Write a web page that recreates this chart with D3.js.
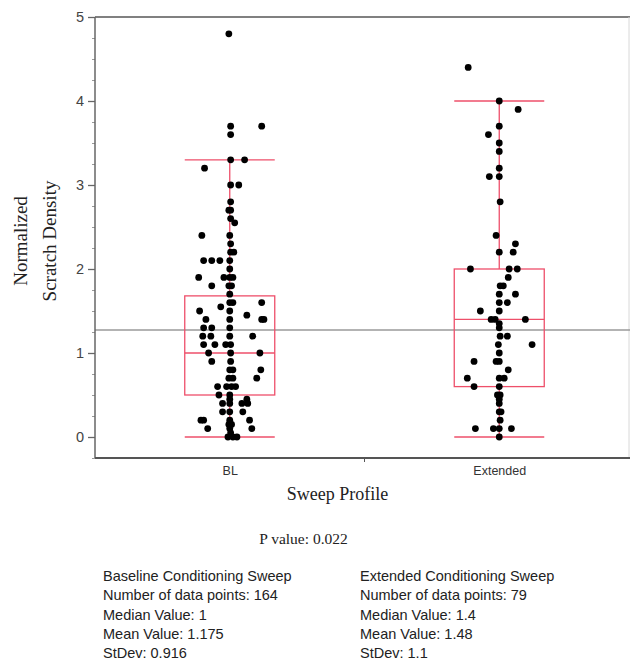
<!DOCTYPE html>
<html>
<head>
<meta charset="utf-8">
<script src="https://cdn.jsdelivr.net/npm/d3@7"></script>
<style>
  html, body { margin: 0; padding: 0; background: #fff; }
  svg { display: block; }
</style>
</head>
<body>
<svg id="chart" width="630" height="666"></svg>
<script>
// Sweep profile categories and summary statistics (box: min, Q1, median, Q3, max)
const categories = ["BL", "Extended"];
const boxMin    = [0, 0];
const boxQ1     = [0.5, 0.6];
const boxMedian = [1.0, 1.4];
const boxQ3     = [1.68, 2.0];
const boxMax    = [3.3, 4.0];
const overallMean = 1.274;

// Individual observations (normalized scratch density) with horizontal jitter
// expressed as a fraction of the box half-width.
const blValues = [
  4.8, 3.7, 3.7, 3.6, 3.3, 3.3, 3.2, 3.0, 3.0, 2.8, 2.7, 2.7, 2.6, 2.55,
  2.4, 2.4, 2.3, 2.2, 2.2, 2.1, 2.1, 2.1, 2.1, 2.0, 1.9, 1.9, 1.9, 1.9,
  1.8, 1.8, 1.8, 1.7, 1.6, 1.6, 1.6, 1.55, 1.5, 1.5, 1.45, 1.4, 1.4, 1.4, 1.4,
  1.3, 1.3, 1.3, 1.2, 1.2, 1.2, 1.2, 1.1, 1.1, 1.1, 1.1, 1.0, 1.0, 1.0,
  0.9, 0.9, 0.8, 0.8, 0.8, 0.7, 0.7, 0.7, 0.6, 0.6, 0.6, 0.6, 0.5, 0.5,
  0.45, 0.45, 0.4, 0.4, 0.4, 0.4, 0.3, 0.3, 0.3, 0.2, 0.2, 0.2, 0.2,
  0.15, 0.15, 0.1, 0.1, 0.1, 0.05, 0, 0, 0
];
const blJitter = [
  -0.02, 0.02, 0.71, 0.02, 0.02, 0.33, -0.56, 0.02, 0.2, 0.02, -0.02, 0.02, 0.02, 0.11,
  -0.62, 0, 0.02, 0.02, 0.09, -0.58, -0.4, -0.22, 0, 0, -0.69, -0.13, 0, 0.07,
  -0.4, -0.02, 0.04, 0, 0, 0.07, 0.71, -0.2, -0.67, 0, 0.38, -0.53, 0, 0.71, 0.76,
  -0.58, -0.4, 0, -0.6, -0.42, 0, 0.51, -0.58, -0.33, -0.09, 0.02, -0.47, 0.02, 0.67,
  -0.4, 0.02, 0, 0.07, 0.69, -0.02, 0.07, 0.6, -0.27, -0.07, 0.04, 0.13, -0.24, 0,
  0, 0.38, -0.16, 0, 0.27, 0.4, -0.16, 0, 0.29, -0.64, -0.58, 0, 0.44,
  -0.02, 0.04, -0.49, 0, 0.49, 0.02, -0.04, 0.07, 0.16
];
const extValues = [
  4.4, 4.0, 3.9, 3.7, 3.6, 3.5, 3.4, 3.2, 3.1, 3.1, 2.8, 2.4, 2.3, 2.2, 2.2,
  2.0, 2.0, 2.0, 1.9, 1.8, 1.8, 1.7, 1.7, 1.6, 1.6, 1.5, 1.5, 1.4, 1.4, 1.4,
  1.35, 1.3, 1.2, 1.2, 1.1, 1.1, 1.0, 0.9, 0.9, 0.9, 0.8, 0.7, 0.7, 0.7,
  0.6, 0.6, 0.5, 0.5, 0.45, 0.4, 0.3, 0.3, 0.2, 0.1, 0.1, 0.1, 0.1, 0
];
const extJitter = [
  -0.69, 0, 0.42, 0, -0.24, 0, 0, 0, -0.22, 0, 0.02, -0.07, 0.36, 0, 0.31,
  -0.64, 0.22, 0.4, 0.2, 0.02, 0.09, 0, 0.36, 0, 0.18, -0.42, 0, -0.18, -0.09, 0.58,
  0, 0, 0.02, 0.18, -0.02, 0.73, 0, -0.56, -0.07, 0, 0.2, -0.71, 0, 0.11,
  -0.56, 0, -0.04, 0.02, 0, 0, 0, 0.04, 0.02, -0.53, -0.13, 0, 0.27, 0
];
const seriesValues = [blValues, extValues];
const seriesJitter = [blJitter, extJitter];

// Y axis ticks
const yTicks = [0, 1, 2, 3, 4, 5];
const yMinorTicks = d3.range(-0.25, 5.001, 0.25);

// Text below the plot
const xTitle = "Sweep Profile";
const yTitle = ["Normalized", "Scratch Density"];
const pValueText = "P value: 0.022";
const statsLeft = [
  "Baseline Conditioning Sweep",
  "Number of data points: 164",
  "Median Value: 1",
  "Mean Value: 1.175",
  "StDev: 0.916"
];
const statsRight = [
  "Extended Conditioning Sweep",
  "Number of data points: 79",
  "Median Value: 1.4",
  "Mean Value: 1.48",
  "StDev: 1.1"
];

// ---- layout ----
const plot = { left: 95, right: 630, top: 17, bottom: 458 };
const boxHalf = 45;
const pointR = 3.4;
const boxColor = "#ee4f6a";
const axisColor = "#666";

const svg = d3.select("#chart");

const y = d3.scaleLinear().domain([-0.25, 5]).range([plot.bottom, plot.top]);
const x = d3.scalePoint().domain(categories).range([plot.left, 634]).padding(0.5);
const jitter = d3.scaleLinear().domain([-1, 1]).range([-boxHalf, boxHalf]);

// Frame: top border and faint right border
svg.append("line")
  .attr("x1", plot.left).attr("x2", plot.right)
  .attr("y1", plot.top).attr("y2", plot.top)
  .attr("stroke", "#808080").attr("stroke-width", 2);
svg.append("line")
  .attr("x1", plot.right - 1).attr("x2", plot.right - 1)
  .attr("y1", plot.top).attr("y2", plot.bottom)
  .attr("stroke", "#d8d8d8").attr("stroke-width", 1);

// Overall mean reference line
svg.append("line")
  .attr("x1", plot.left).attr("x2", plot.right)
  .attr("y1", y(overallMean)).attr("y2", y(overallMean))
  .attr("stroke", "#9a9a9a").attr("stroke-width", 1.3);

// Y axis: minor ticks, then labelled major ticks
const yAxisG = svg.append("g").attr("transform", `translate(${plot.left},0)`);
yAxisG.call(d3.axisLeft(y).tickValues(yMinorTicks).tickSize(3).tickFormat(""))
  .call(g => g.select(".domain").remove())
  .selectAll("line").attr("stroke", "#999");
const yMajor = svg.append("g").attr("transform", `translate(${plot.left},0)`)
  .call(d3.axisLeft(y).tickValues(yTicks).tickSize(7).tickPadding(4).tickFormat(d3.format("d")));
yMajor.select(".domain").remove();
yMajor.selectAll("line").attr("stroke", axisColor).attr("stroke-width", 1.3);
yMajor.selectAll("text")
  .attr("font-family", "'Liberation Sans', Arial, sans-serif")
  .attr("font-size", 14.5).attr("fill", "#444");
svg.append("line")
  .attr("x1", plot.left).attr("x2", plot.left)
  .attr("y1", plot.top).attr("y2", plot.bottom)
  .attr("stroke", axisColor).attr("stroke-width", 1.5);

// X axis
svg.append("line")
  .attr("x1", plot.left).attr("x2", plot.right)
  .attr("y1", plot.bottom).attr("y2", plot.bottom)
  .attr("stroke", "#555").attr("stroke-width", 2);
const xAxisG = svg.append("g").attr("transform", `translate(0,${plot.bottom})`)
  .call(d3.axisBottom(x).tickSize(0).tickPadding(8));
xAxisG.select(".domain").remove();
xAxisG.selectAll("text")
  .attr("font-family", "'Liberation Sans', Arial, sans-serif")
  .attr("font-size", 12.5).attr("fill", "#333");
// separator tick between the two categories
const midX = (x(categories[0]) + x(categories[1])) / 2;
svg.append("line")
  .attr("x1", midX).attr("x2", midX)
  .attr("y1", plot.bottom).attr("y2", plot.bottom + 4)
  .attr("stroke", "#555").attr("stroke-width", 1);

// Box plots
const boxes = svg.append("g").attr("fill", "none").attr("stroke", boxColor).attr("stroke-width", 1.3);
categories.forEach((c, i) => {
  const cx = x(c);
  const g = boxes.append("g");
  // whisker
  g.append("line").attr("x1", cx).attr("x2", cx).attr("y1", y(boxMin[i])).attr("y2", y(boxQ1[i]));
  g.append("line").attr("x1", cx).attr("x2", cx).attr("y1", y(boxQ3[i])).attr("y2", y(boxMax[i]));
  // caps
  [boxMin[i], boxMax[i]].forEach(v => {
    g.append("line").attr("x1", cx - boxHalf).attr("x2", cx + boxHalf).attr("y1", y(v)).attr("y2", y(v));
  });
  // box
  g.append("rect")
    .attr("x", cx - boxHalf).attr("width", 2 * boxHalf)
    .attr("y", y(boxQ3[i])).attr("height", y(boxQ1[i]) - y(boxQ3[i]));
  // median
  g.append("line").attr("x1", cx - boxHalf).attr("x2", cx + boxHalf)
    .attr("y1", y(boxMedian[i])).attr("y2", y(boxMedian[i]));
});

// Points
categories.forEach((c, i) => {
  svg.append("g").selectAll("circle")
    .data(seriesValues[i].map((v, k) => ({ v, j: seriesJitter[i][k] })))
    .join("circle")
    .attr("cx", d => x(c) + jitter(d.j))
    .attr("cy", d => y(d.v))
    .attr("r", pointR)
    .attr("fill", "#000");
});

// Axis titles
const serif = "'Liberation Serif', 'Times New Roman', serif";
const sans = "'Liberation Sans', Arial, sans-serif";
const yMid = 241;
svg.append("text")
  .attr("transform", `translate(27,${yMid}) rotate(-90)`)
  .attr("text-anchor", "middle")
  .attr("font-family", serif).attr("font-size", 19).attr("fill", "#222")
  .text(yTitle[0]);
svg.append("text")
  .attr("transform", `translate(56,${yMid}) rotate(-90)`)
  .attr("text-anchor", "middle")
  .attr("font-family", serif).attr("font-size", 19).attr("fill", "#222")
  .text(yTitle[1]);
svg.append("text")
  .attr("x", 337.5).attr("y", 500)
  .attr("text-anchor", "middle")
  .attr("font-family", serif).attr("font-size", 18).attr("fill", "#222")
  .text(xTitle);

// P value
svg.append("text")
  .attr("x", 303.5).attr("y", 544)
  .attr("text-anchor", "middle")
  .attr("font-family", serif).attr("font-size", 15.5).attr("fill", "#222")
  .text(pValueText);

// Summary statistics blocks
const lineH = 19.3;
[[statsLeft, 103], [statsRight, 360]].forEach(([lines, x0]) => {
  svg.append("g").selectAll("text")
    .data(lines)
    .join("text")
    .attr("x", x0)
    .attr("y", (d, k) => 581 + k * lineH)
    .attr("font-family", sans).attr("font-size", 14.5).attr("fill", "#222")
    .text(d => d);
});
</script>
</body>
</html>
